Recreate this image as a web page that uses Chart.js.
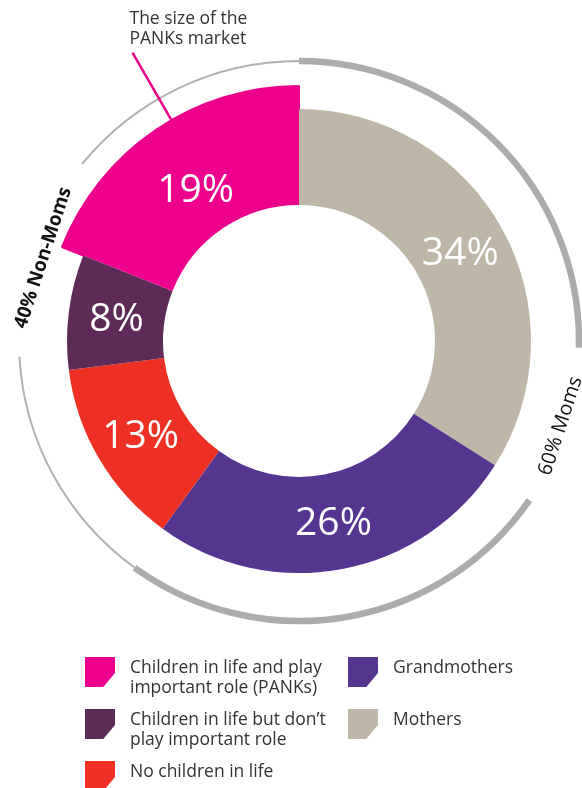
<!DOCTYPE html>
<html>
<head>
<meta charset="utf-8">
<script src="https://cdn.jsdelivr.net/npm/chart.js@4.4.1/dist/chart.umd.min.js"></script>
<style>
  html, body { margin: 0; padding: 0; background: #fff; }
  body { width: 582px; height: 788px; position: relative; overflow: hidden; font-family: 'Open Sans', sans-serif; }
  #chart { position: absolute; left: 0; top: 0; }
  .item { position: absolute; display: flex; align-items: flex-start; }
  .swatch { width: 30px; height: 30px; flex: none; margin-top: 1px;
            clip-path: polygon(0 0, 100% 0, 100% 53%, 61% 100%, 0 100%); }
  .text { margin-left: 15px; font-size: 17.5px; line-height: 20px; color: #333; white-space: pre; }
</style>
</head>
<body>
<canvas id="chart" width="582" height="788"></canvas>
<div id="legend"></div>
<script>
// slices, clockwise from 12 o'clock
const categories = [
  'Mothers',
  'Grandmothers',
  'No children in life',
  'Children in life but don\u2019t\nplay important role',
  'Children in life and play\nimportant role (PANKs)'
];
const shares = [34, 26, 13, 8, 19];
const colors = ['#BEB6A6', '#563591', '#EE3124', '#5E2A57', '#EC008C'];
const groupOf = ['Moms', 'Moms', 'Non-Moms', 'Non-Moms', 'Non-Moms'];
const groupNames = ['Moms', 'Non-Moms'];
const highlighted = 4; // PANKs slice sticks out
const legendOrder = [4, 3, 2, 1, 0];
const annotation = ['The size of the', 'PANKs market'];

const groupStyle = {
  'Moms': { width: 6.5, color: '#ABADAC', font: '400 20px "Open Sans"', r: 275 },
  'Non-Moms': { width: 2, color: '#B0B1B0', font: '700 19px "Open Sans"', r: 269 }
};

const ringLabels = {
  id: 'ringLabels',
  afterDatasetsDraw(chart) {
    const ctx = chart.ctx;
    const main = chart.getDatasetMeta(1);
    const outer = chart.getDatasetMeta(0).controller.outerRadius + 1;
    const cx = main.data[0].x, cy = main.data[0].y;

    // percentages inside the ring
    ctx.save();
    ctx.fillStyle = '#fff';
    ctx.font = '400 39px "Open Sans"';
    ctx.textAlign = 'center';
    ctx.textBaseline = 'middle';
    main.data.forEach((arc, i) => {
      const p = arc.getProps(['startAngle', 'endAngle', 'innerRadius', 'outerRadius'], true);
      const a = (p.startAngle + p.endAngle) / 2;
      const r = (p.innerRadius + p.outerRadius) / 2;
      ctx.fillText(shares[i] + '%', cx + r * Math.cos(a), cy + r * Math.sin(a) + 2);
    });
    ctx.restore();

    // group arcs with their labels
    const R = outer + 24;
    groupNames.forEach(g => {
      const idx = groupOf.map((v, i) => v === g ? i : -1).filter(i => i >= 0);
      const start = main.data[idx[0]].startAngle;
      const end = main.data[idx[idx.length - 1]].endAngle;
      const total = idx.reduce((s, i) => s + shares[i], 0);
      const st = groupStyle[g];
      const mid = (start + end) / 2;
      const text = total + '% ' + g;
      ctx.save();
      ctx.font = st.font;
      const w = ctx.measureText(text).width;
      const half = (w / 2 + 30) / R;
      ctx.strokeStyle = st.color;
      ctx.lineWidth = st.width;
      ctx.beginPath();
      ctx.arc(cx, cy, R, start, mid - half);
      ctx.stroke();
      ctx.beginPath();
      ctx.arc(cx, cy, R, mid + half, end);
      ctx.stroke();
      ctx.translate(cx + st.r * Math.cos(mid), cy + st.r * Math.sin(mid));
      ctx.rotate(Math.cos(mid) > 0 ? mid - Math.PI / 2 : mid + Math.PI / 2);
      ctx.fillStyle = '#111';
      ctx.textAlign = 'center';
      ctx.textBaseline = 'middle';
      ctx.fillText(text, 0, 0);
      ctx.restore();
    });

    // leader line for the PANKs slice
    const la = (330 - 90) * Math.PI / 180;
    const x1 = cx + outer * Math.cos(la), y1 = cy + outer * Math.sin(la);
    const x2 = cx + (outer + 77) * Math.cos(la), y2 = cy + (outer + 77) * Math.sin(la);
    ctx.save();
    ctx.strokeStyle = colors[highlighted];
    ctx.lineWidth = 2.5;
    ctx.beginPath();
    ctx.moveTo(x1, y1);
    ctx.lineTo(x2, y2);
    ctx.stroke();
    ctx.fillStyle = '#333';
    ctx.font = '400 17.5px "Open Sans"';
    ctx.textAlign = 'left';
    ctx.textBaseline = 'alphabetic';
    annotation.forEach((line, k) => ctx.fillText(line, x2 - 3, y2 - 29 + k * 20));
    ctx.restore();
  }
};

new Chart(document.getElementById('chart'), {
  type: 'doughnut',
  data: {
    labels: categories,
    datasets: [
      {
        data: shares,
        backgroundColor: shares.map((v, i) => i === highlighted ? colors[i] : 'rgba(0,0,0,0)'),
        borderColor: shares.map((v, i) => i === highlighted ? colors[i] : 'rgba(0,0,0,0)'),
        borderWidth: shares.map((v, i) => i === highlighted ? 2 : 0),
        weight: 23
      },
      {
        data: shares,
        backgroundColor: colors,
        borderWidth: 0,
        weight: 96
      }
    ]
  },
  options: {
    responsive: false,
    animation: false,
    events: [],
    cutout: 136,
    hoverBorderWidth: 0,
    hoverOffset: 0,
    layout: { padding: { left: 43, right: 27, top: 85, bottom: 191 } },
    plugins: { legend: { display: false }, tooltip: { enabled: false } }
  },
  plugins: [ringLabels]
});

// legend: two columns
const legend = document.getElementById('legend');
legendOrder.forEach((i, k) => {
  const col = k < 3 ? 0 : 1;
  const row = k < 3 ? k : k - 3;
  const item = document.createElement('div');
  item.className = 'item';
  item.style.left = (85 + col * 263) + 'px';
  item.style.top = (656 + row * 52) + 'px';
  const sw = document.createElement('div');
  sw.className = 'swatch';
  sw.style.background = colors[i];
  const tx = document.createElement('div');
  tx.className = 'text';
  tx.textContent = categories[i];
  item.appendChild(sw);
  item.appendChild(tx);
  legend.appendChild(item);
});
</script>
</body>
</html>
